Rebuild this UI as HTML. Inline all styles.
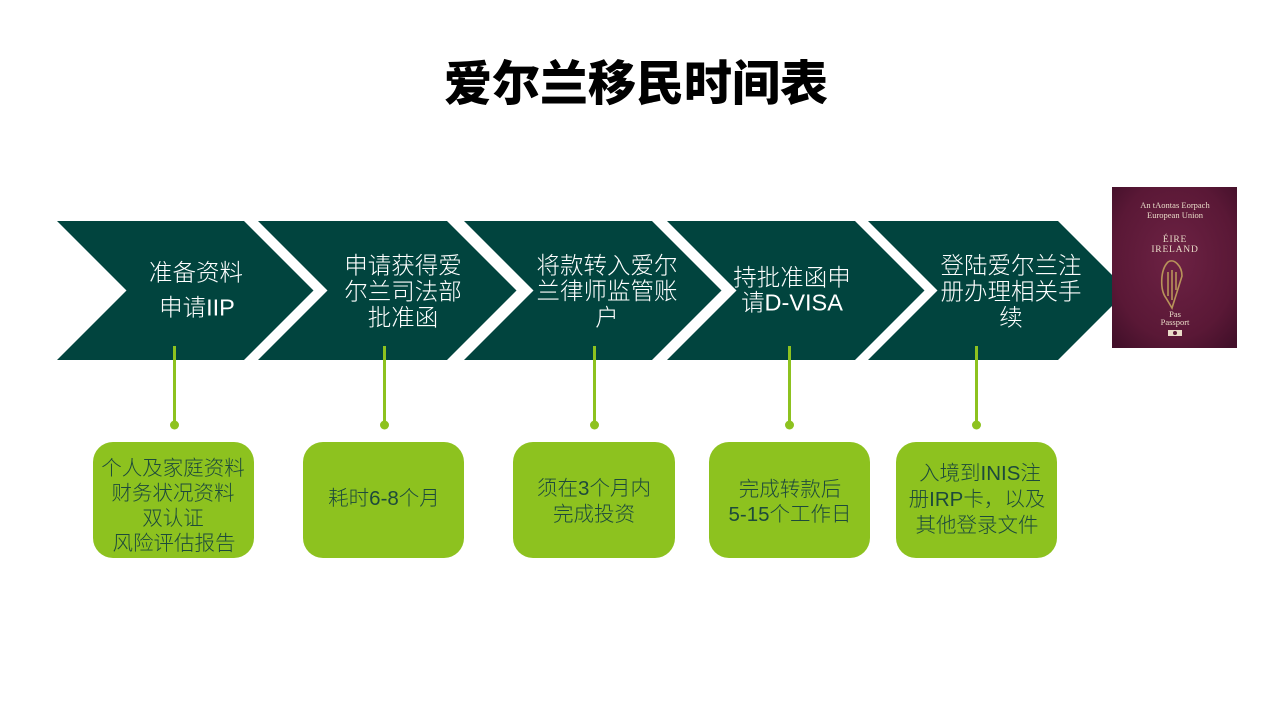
<!DOCTYPE html>
<html><head><meta charset="utf-8"><style>
html,body{margin:0;padding:0;background:#fff;}
svg{display:block;}
</style></head><body>
<svg width="1280" height="720" viewBox="0 0 1280 720" xmlns="http://www.w3.org/2000/svg">
<defs>
<radialGradient id="pg" cx="50%" cy="45%" r="70%">
<stop offset="0" stop-color="#6d2244"/>
<stop offset="0.7" stop-color="#5a1836"/>
<stop offset="1" stop-color="#43102a"/>
</radialGradient>
</defs>
<rect width="1280" height="720" fill="#fff"/>
<text x="636" y="100" text-anchor="middle" font-family="'Liberation Sans','Noto Sans CJK SC',sans-serif" font-size="48" font-weight="900" fill="#000">爱尔兰移民时间表</text>

<g fill="#01443e">
<polygon points="57,221 244,221 313.5,290.5 244,360 57,360 126.5,290.5"/>
<polygon points="258,221 447,221 516.5,290.5 447,360 258,360 327.5,290.5"/>
<polygon points="464,221 652,221 721.5,290.5 652,360 464,360 533.5,290.5"/>
<polygon points="667,221 855,221 924.5,290.5 855,360 667,360 736.5,290.5"/>
<polygon points="868,221 1058,221 1127.5,290.5 1058,360 868,360 937.5,290.5"/>
</g>

<g font-family="'Liberation Sans','Noto Sans CJK SC',sans-serif" font-size="23.5" font-weight="300" fill="#fff" text-anchor="middle">
<text x="196" y="280.5">准备资料</text>
<text x="197" y="315.5">申请IIP</text>
<text x="403" y="273.5">申请获得爱</text>
<text x="403" y="299.5">尔兰司法部</text>
<text x="403" y="325.5">批准函</text>
<text x="607" y="273.5">将款转入爱尔</text>
<text x="607" y="299">兰律师监管账</text>
<text x="607" y="325.5">户</text>
<text x="792" y="285.5">持批准函申</text>
<text x="792" y="310.5">请D-VISA</text>
<text x="1011" y="273.5">登陆爱尔兰注</text>
<text x="1011" y="299.5">册办理相关手</text>
<text x="1011" y="325.5">续</text>
</g>

<g stroke="#8dc21f" stroke-width="3">
<line x1="174.5" y1="346" x2="174.5" y2="425"/>
<line x1="384.5" y1="346" x2="384.5" y2="425"/>
<line x1="594.5" y1="346" x2="594.5" y2="425"/>
<line x1="789.5" y1="346" x2="789.5" y2="425"/>
<line x1="976.5" y1="346" x2="976.5" y2="425"/>
</g>
<g fill="#8dc21f">
<circle cx="174.5" cy="425" r="4.5"/>
<circle cx="384.5" cy="425" r="4.5"/>
<circle cx="594.5" cy="425" r="4.5"/>
<circle cx="789.5" cy="425" r="4.5"/>
<circle cx="976.5" cy="425" r="4.5"/>
<rect x="93" y="442" width="161" height="116" rx="20"/>
<rect x="303" y="442" width="161" height="116" rx="20"/>
<rect x="513" y="442" width="162" height="116" rx="20"/>
<rect x="709" y="442" width="161" height="116" rx="20"/>
<rect x="896" y="442" width="161" height="116" rx="20"/>
</g>

<g font-family="'Liberation Sans','Noto Sans CJK SC',sans-serif" font-size="20.5" font-weight="300" fill="#1d4a3b" text-anchor="middle">
<text x="173" y="475">个人及家庭资料</text>
<text x="173" y="500">财务状况资料</text>
<text x="173" y="525">双认证</text>
<text x="174" y="550">风险评估报告</text>
<text x="384" y="505">耗时6-8个月</text>
<text x="594" y="495">须在3个月内</text>
<text x="594" y="521">完成投资</text>
<text x="790" y="496">完成转款后</text>
<text x="790" y="521">5-15个工作日</text>
<text x="980" y="480">入境到INIS注</text>
<text x="977" y="506">册IRP卡，以及</text>
<text x="977" y="532">其他登录文件</text>
</g>

<!-- passport -->
<rect x="1112" y="187" width="125" height="161" fill="url(#pg)"/>
<g font-family="'Liberation Serif','DejaVu Serif',serif" fill="#e9dcc8" text-anchor="middle">
<text x="1175" y="208" font-size="8.5">An tAontas Eorpach</text>
<text x="1175" y="218" font-size="8.5">European Union</text>
<text x="1175" y="242" font-size="9.5" letter-spacing="0.8">ÉIRE</text>
<text x="1175" y="252" font-size="9.5" letter-spacing="0.8">IRELAND</text>
<text x="1175" y="317" font-size="8.5">Pas</text>
<text x="1175" y="325" font-size="8.5">Passport</text>
</g>
<g fill="none" stroke="#b8935a" stroke-width="1.6">
<path d="M1168,262 C1160,270 1160,290 1166,298 L1172,308 L1182,276 C1182,266 1174,258 1168,262 Z"/>
<line x1="1168" y1="272" x2="1168" y2="296"/>
<line x1="1172" y1="270" x2="1172" y2="300"/>
<line x1="1176" y1="272" x2="1176" y2="290"/>
</g>
<rect x="1168" y="330" width="14" height="6" fill="#e9dcc8"/>
<circle cx="1175" cy="333" r="2" fill="#5a1836"/>
</svg>
</body></html>
